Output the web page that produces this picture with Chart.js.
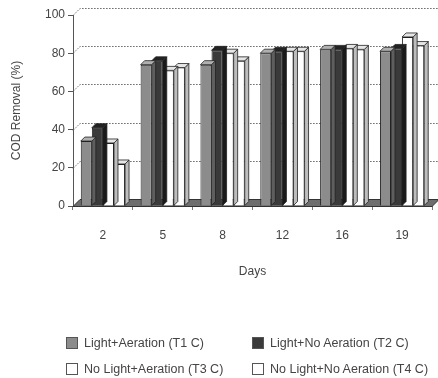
<!DOCTYPE html>
<html>
<head>
<meta charset="utf-8">
<script src="https://cdn.jsdelivr.net/npm/chart.js@4"></script>
<style>
  html, body { margin: 0; padding: 0; background: #fff; }
  #wrap { position: relative; width: 438px; height: 378px; }
  #legend { position: absolute; left: 0; top: 0; width: 438px; height: 378px; pointer-events: none;
            font-family: "Liberation Sans", Arial, sans-serif; font-size: 12.5px; color: #444; }
  .item { position: absolute; display: flex; align-items: center; white-space: nowrap; }
  .box { width: 10px; height: 10px; border: 1px solid #555; margin-right: 6px; }
</style>
</head>
<body>
<div id="wrap">
  <canvas id="c" width="438" height="378"></canvas>
  <div id="legend"></div>
</div>
<script>
const categories = ["2", "5", "8", "12", "16", "19"];
const seriesNames = ["Light+Aeration (T1 C)", "Light+No Aeration (T2 C)", "No Light+Aeration (T3 C)", "No Light+No Aeration (T4 C)"];
const t1 = [34, 74, 74, 80, 82, 81];
const t2 = [41, 76, 81.5, 81, 82, 82.5];
const t3 = [33, 71, 80, 81, 82.5, 88.5];
const t4 = [22, 72.5, 76, 81, 82, 84];
const yTicks = [0, 20, 40, 60, 80, 100];

const fronts = ["#8c8c8c", "#3a3a3a", "#ffffff", "#ffffff"];
const sides  = ["#5e5e5e", "#1a1a1a", "#bdbdbd", "#bdbdbd"];
const tops   = ["#b0b0b0", "#222222", "#e6e6e6", "#e6e6e6"];
const BD = 4;   // bar depth
const WD = 7;   // wall depth

const threeD = {
  id: 'threeD',
  beforeDatasetsDraw(chart) {
    const ctx = chart.ctx, a = chart.chartArea, y = chart.scales.y;
    ctx.save();
    ctx.strokeStyle = '#666';
    ctx.lineWidth = 1;
    ctx.setLineDash([1.5, 1.5]);
    yTicks.forEach(v => {
      if (v === 0) return;
      const py = Math.round(y.getPixelForValue(v)) + 0.5;
      ctx.beginPath();
      ctx.moveTo(a.left, py);
      ctx.lineTo(a.left + WD, py - WD);
      ctx.lineTo(a.right + WD, py - WD);
      ctx.stroke();
    });
    ctx.setLineDash([]);
    const b = Math.round(y.getPixelForValue(0)) + 0.5;
    ctx.fillStyle = '#6e6e6e';
    ctx.strokeStyle = '#333';
    ctx.beginPath();
    ctx.moveTo(a.left, b);
    ctx.lineTo(a.right, b);
    ctx.lineTo(a.right + WD, b - WD);
    ctx.lineTo(a.left + WD, b - WD);
    ctx.closePath();
    ctx.fill();
    ctx.stroke();
    ctx.restore();
  },
  afterDatasetDraw(chart, args) {
    const ctx = chart.ctx, i = args.index;
    const meta = chart.getDatasetMeta(i);
    ctx.save();
    ctx.strokeStyle = '#222';
    ctx.lineWidth = 0.8;
    meta.data.forEach(bar => {
      const l = bar.x - bar.width / 2, r = bar.x + bar.width / 2;
      const t = bar.y, bs = bar.base;
      ctx.fillStyle = sides[i];
      ctx.beginPath();
      ctx.moveTo(r, t); ctx.lineTo(r + BD, t - BD); ctx.lineTo(r + BD, bs - BD); ctx.lineTo(r, bs);
      ctx.closePath(); ctx.fill(); ctx.stroke();
      ctx.fillStyle = tops[i];
      ctx.beginPath();
      ctx.moveTo(l, t); ctx.lineTo(l + BD, t - BD); ctx.lineTo(r + BD, t - BD); ctx.lineTo(r, t);
      ctx.closePath(); ctx.fill(); ctx.stroke();
    });
    ctx.restore();
  }
};

const font = { family: '"Liberation Sans", Arial, sans-serif', size: 12 };
const data = [t1, t2, t3, t4];

new Chart(document.getElementById('c'), {
  type: 'bar',
  data: {
    labels: categories,
    datasets: data.map((d, i) => ({
      label: seriesNames[i], data: d,
      backgroundColor: fronts[i], borderColor: '#222', borderWidth: 1,
      barPercentage: 1.0, categoryPercentage: 0.74
    }))
  },
  options: {
    responsive: false, animation: false,
    layout: { padding: { left: 4, right: 6, top: 15, bottom: 99 } },
    plugins: { legend: { display: false }, tooltip: { enabled: false } },
    scales: {
      x: {
        grid: { display: true, drawOnChartArea: false, tickLength: 4, color: '#777', offset: true },
        border: { display: true, color: '#555' },
        ticks: { font, color: '#444', padding: 18 },
        title: { display: true, text: 'Days', font, color: '#444', padding: { top: 22, bottom: 0 } },
        afterFit: s => { s.height = 73; }
      },
      y: {
        min: 0, max: 100,
        grid: { display: true, drawOnChartArea: false, tickLength: 5, color: '#555' },
        border: { display: true, color: '#555' },
        ticks: { font, color: '#444', stepSize: 20, padding: 3 },
        title: { display: true, text: 'COD Removal (%)', font, color: '#444', padding: { top: 5, bottom: 0 } },
        afterFit: s => { s.width = 69; }
      }
    }
  },
  plugins: [threeD]
});

const legendPos = [[66, 343], [252, 343], [66, 369], [252, 369]];
const lg = document.getElementById('legend');
seriesNames.forEach((n, i) => {
  const it = document.createElement('div');
  it.className = 'item';
  it.style.left = legendPos[i][0] + 'px';
  it.style.top = (legendPos[i][1] - 7) + 'px';
  const bx = document.createElement('div');
  bx.className = 'box';
  bx.style.background = fronts[i];
  it.appendChild(bx);
  const tx = document.createElement('span');
  tx.textContent = n;
  it.appendChild(tx);
  lg.appendChild(it);
});
</script>
</body>
</html>
